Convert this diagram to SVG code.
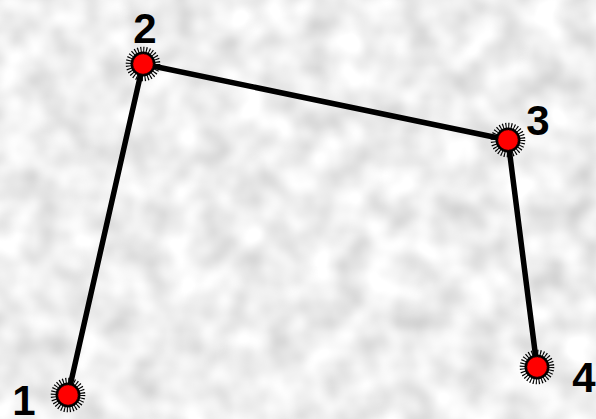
<svg xmlns="http://www.w3.org/2000/svg" width="596" height="419" viewBox="0 0 596 419">
<defs>
<filter id="tex" x="0" y="0" width="100%" height="100%">
<feTurbulence type="fractalNoise" baseFrequency="0.03" numOctaves="2" seed="7" result="n"/>
<feColorMatrix in="n" type="matrix" values="0.6 0 0 0 0.56  0.6 0 0 0 0.56  0.6 0 0 0 0.56  0 0 0 0 1"/>
</filter>
<g id="node">
<circle r="14.3" fill="none" stroke="#000" stroke-width="6" stroke-dasharray="1.1 1.7"/>
<circle r="12.5" fill="#000"/>
<circle r="10" fill="#ff0000" stroke="#600" stroke-width="1" stroke-dasharray="1 1"/>
</g>
<style>
.lbl{font-family:"Liberation Sans",Arial,sans-serif;font-weight:bold;font-size:42px;fill:#000;text-anchor:middle}
.edge{stroke:#000;stroke-width:5.5;fill:none;stroke-linecap:round}
</style>
</defs>
<rect width="596" height="419" fill="#e0e0e0"/>
<rect width="596" height="419" filter="url(#tex)"/>
<g id="connectors">
<line class="edge" x1="68" y1="395" x2="143" y2="64"/>
<line class="edge" x1="143" y1="64" x2="508" y2="140"/>
<line class="edge" x1="508" y1="140" x2="537" y2="367"/>
</g>
<g id="n1"><use href="#node" x="68" y="395"/><text class="lbl" x="24" y="415">1</text></g>
<g id="n2"><use href="#node" x="143" y="64"/><text class="lbl" x="145" y="43">2</text></g>
<g id="n3"><use href="#node" x="508" y="140"/><text class="lbl" x="538" y="135">3</text></g>
<g id="n4"><use href="#node" x="537" y="367"/><text class="lbl" x="584" y="392">4</text></g>
</svg>
